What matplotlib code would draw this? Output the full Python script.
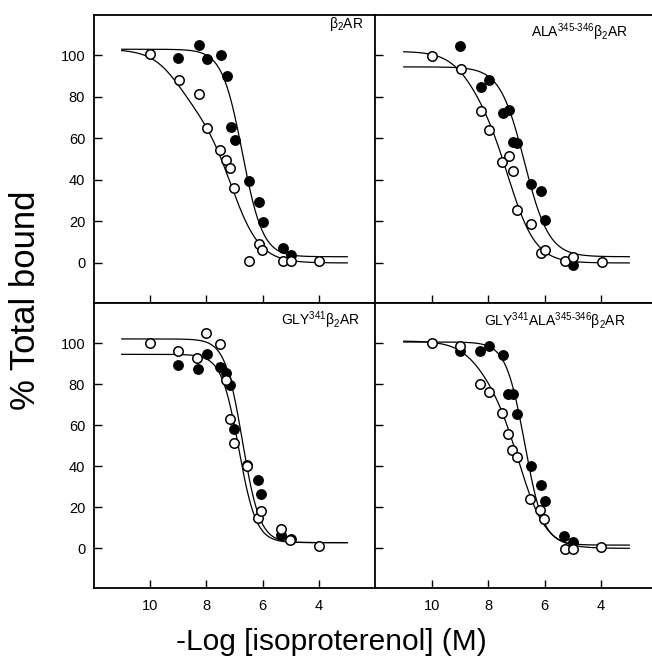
import numpy as np
import matplotlib
matplotlib.use('Agg')
import matplotlib.pyplot as plt

plt.rcParams['font.family'] = ['Liberation Sans', 'DejaVu Sans']
plt.rcParams['mathtext.fontset'] = 'custom'
plt.rcParams['mathtext.rm'] = 'Liberation Sans'
plt.rcParams['mathtext.it'] = 'Liberation Sans:italic'
plt.rcParams['mathtext.bf'] = 'Liberation Sans:bold'

# ---------------- data ----------------
panel_titles = [r'β$_2$AR',
                r'ALA$^{345\text{-}346}$β$_2$AR',
                r'GLY$^{341}$β$_2$AR',
                r'GLY$^{341}$ALA$^{345\text{-}346}$β$_2$AR']

x_ticks = [10, 8, 6, 4, 2]
x_ticklabels = ['10', '8', '6', '4', '']
y_ticks = [100, 80, 60, 40, 20, 0]
y_ticklabels = ['100', '80', '60', '40', '20', '0']

# Panel 1: beta2AR
p1_filled_x = [8.99, 8.26, 7.96, 7.47, 7.27, 7.13, 7.00, 6.50, 6.14, 6.00, 5.29, 4.98]
p1_filled_y = [98.9, 105.1, 98.4, 100.0, 89.9, 65.4, 59.3, 39.7, 29.3, 19.9, 7.2, 3.9]
p1_open_x = [9.98, 8.96, 8.27, 7.98, 7.51, 7.30, 7.15, 7.01, 6.50, 6.14, 6.01, 5.29, 4.98, 4.00]
p1_open_y = [100.5, 88.4, 81.5, 65.0, 54.2, 49.8, 45.8, 36.0, 1.1, 9.2, 6.3, 1.1, 1.1, 1.1]

# Panel 2: ALA345-346 beta2AR
p2_filled_x = [8.99, 8.26, 7.97, 7.49, 7.27, 7.12, 6.97, 6.49, 6.12, 6.00, 4.99]
p2_filled_y = [104.5, 84.8, 88.0, 72.3, 73.9, 58.4, 57.9, 38.1, 34.9, 20.8, -0.8]
p2_open_x = [9.98, 8.98, 8.27, 7.98, 7.52, 7.27, 7.13, 7.00, 6.49, 6.13, 5.98, 5.27, 4.99, 3.97]
p2_open_y = [99.7, 93.6, 73.1, 64.0, 48.8, 51.5, 44.3, 25.6, 19.0, 4.8, 6.4, 1.1, 2.7, 0.5]

# Panel 3: GLY341 beta2AR
p3_filled_x = [8.99, 8.31, 7.98, 7.53, 7.30, 7.15, 7.03, 6.56, 6.18, 6.05, 5.34, 5.00]
p3_filled_y = [89.4, 87.5, 94.8, 88.3, 85.5, 79.8, 58.1, 40.7, 33.4, 26.7, 6.5, 4.4]
p3_open_x = [10.0, 8.99, 8.32, 8.00, 7.51, 7.30, 7.15, 7.03, 6.56, 6.18, 6.05, 5.34, 5.02, 4.00]
p3_open_y = [100.2, 96.1, 92.8, 105.0, 99.7, 82.1, 63.0, 51.1, 40.2, 15.0, 18.2, 9.6, 3.9, 1.1]

# Panel 4: GLY341 ALA345-346 beta2AR
p4_filled_x = [9.00, 8.29, 7.96, 7.49, 7.29, 7.11, 6.99, 6.49, 6.13, 5.99, 5.32, 5.00]
p4_filled_y = [96.2, 96.2, 98.4, 94.1, 75.0, 75.4, 65.6, 40.0, 30.7, 23.3, 6.0, 3.3]
p4_open_x = [10.0, 9.00, 8.31, 7.99, 7.51, 7.31, 7.15, 6.99, 6.51, 6.16, 6.01, 5.29, 4.99, 4.00]
p4_open_y = [100.0, 98.7, 80.0, 76.2, 66.1, 55.8, 48.1, 44.4, 24.1, 18.8, 14.2, -0.3, -0.3, 0.5]

# fitted-curve parameters: top, bottom, high-site fraction, pIC50 high, pIC50 low, slope
p1_filled_fit = [103.0, 3.0, 0.0, 8.0, 6.72, 1.2]
p1_open_fit = [103.0, 0.0, 0.3, 9.0, 7.1, 0.85]
p2_filled_fit = [94.5, 3.0, 0.0, 8.0, 6.72, 1.0]
p2_open_fit = [102.0, 0.0, 0.25, 8.6, 7.25, 0.9]
p3_filled_fit = [94.5, 2.8, 0.0, 8.0, 6.85, 1.4]
p3_open_fit = [102.0, 2.8, 0.0, 8.0, 6.72, 1.4]
p4_filled_fit = [100.5, 1.6, 0.0, 8.0, 6.71, 1.3]
p4_open_fit = [101.0, 0.0, 0.2, 8.3, 6.9, 0.9]

curve_range = [11.0, 3.0]

panels = [
    (p1_filled_x, p1_filled_y, p1_open_x, p1_open_y, p1_filled_fit, p1_open_fit),
    (p2_filled_x, p2_filled_y, p2_open_x, p2_open_y, p2_filled_fit, p2_open_fit),
    (p3_filled_x, p3_filled_y, p3_open_x, p3_open_y, p3_filled_fit, p3_open_fit),
    (p4_filled_x, p4_filled_y, p4_open_x, p4_open_y, p4_filled_fit, p4_open_fit),
]


def competition(p, top, bottom, f, ph, pl, n):
    return bottom + (top - bottom) * (f / (1 + 10 ** (n * (ph - p)))
                                      + (1 - f) / (1 + 10 ** (n * (pl - p))))


# ---------------- layout ----------------
W, H = 652, 656
fig = plt.figure(figsize=(W / 100, H / 100), dpi=100)

xl = [93.5, 375.5]
wpx = 282
rows = [(15, 303), (303, 588)]
title_pos = [(0.956, 0.955), (0.895, 0.924), (0.945, 0.923), (0.885, 0.920)]

axes = []
for r in range(2):
    for c in range(2):
        top_px, bot_px = rows[r]
        ax = fig.add_axes([xl[c] / W, (H - bot_px) / H, wpx / W, (bot_px - top_px) / H])
        axes.append(ax)

for i, ax in enumerate(axes):
    fx, fy, ox, oy, ffit, ofit = panels[i]
    pc = np.linspace(curve_range[0], curve_range[1], 300)
    ax.plot(pc, competition(pc, *ffit), color='black', lw=0.9, zorder=2)
    ax.plot(pc, competition(pc, *ofit), color='black', lw=0.9, zorder=2)
    ax.plot(fx, fy, 'o', ms=6.8, mfc='black', mec='black', mew=1.0, zorder=3, clip_on=False)
    ax.plot(ox, oy, 'o', ms=6.8, mfc='white', mec='black', mew=1.1, zorder=4, clip_on=False)

    ax.set_xlim(12, 2)
    ax.set_ylim(-19.3, 119.5)
    ax.set_xticks(x_ticks)
    ax.set_yticks(y_ticks)
    row, col = divmod(i, 2)
    if row == 1:
        ax.set_xticklabels(x_ticklabels)
    else:
        ax.set_xticklabels([])
    if col == 0:
        ax.set_yticklabels(y_ticklabels)
    else:
        ax.set_yticklabels([])
    ax.tick_params(axis='both', direction='in', length=5.5, width=1.0,
                   labelsize=10.5, colors='black')
    ax.tick_params(axis='y', pad=6)
    ax.tick_params(axis='x', pad=8)
    for s in ax.spines.values():
        s.set_linewidth(1.3)
        s.set_color('black')
    if col == 1:
        ax.spines['right'].set_visible(False)
    ax.text(title_pos[i][0], title_pos[i][1], panel_titles[i], transform=ax.transAxes,
            ha='right', va='baseline', fontsize=10)

fig.text(26 / W, 1 - 300 / H, '% Total bound', rotation=90, ha='center', va='center', fontsize=25)
fig.text(331 / W, 1 - 650 / H, '-Log [isoproterenol] (M)', ha='center', va='baseline', fontsize=21.5)

fig.savefig('out.png', dpi=100)
